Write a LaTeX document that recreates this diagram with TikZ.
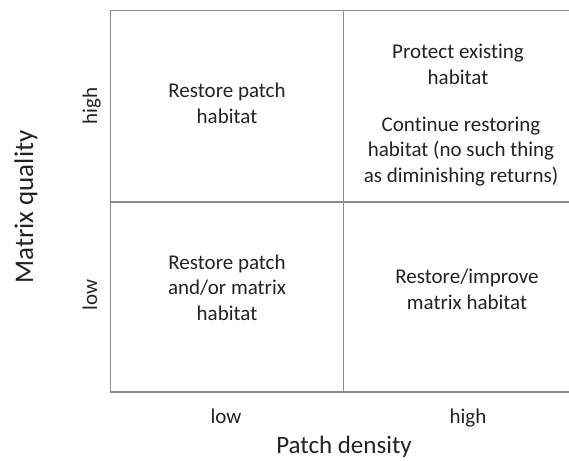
\documentclass[tikz,border=0pt]{standalone}
\usepackage{fontspec}
\setmainfont{Carlito}[Ligatures=NoCommon]
\definecolor{gridgray}{HTML}{8C8C8C}
\definecolor{ink}{HTML}{222222}
\begin{document}
\begin{tikzpicture}[x=1pt,y=-1pt,
  gridline/.style={draw=gridgray,line width=1.5pt},
  cell/.style={text=ink,font=\fontsize{21}{25.5}\selectfont,align=center,anchor=base,inner sep=0pt},
  tick/.style={text=ink,font=\fontsize{21}{25}\selectfont,anchor=base,inner sep=0pt},
  axistitle/.style={text=ink,anchor=base,inner sep=0pt}]
\useasboundingbox (0,0) rectangle (569,460);
% quadrant grid (right edge runs past the page)
\draw[gridline] (585,10.5) -- (110.5,10.5) -- (110.5,392) -- (585,392);
\draw[gridline] (343.5,10.5) -- (343.5,392);
\draw[gridline] (110.5,202) -- (585,202);
% cell texts, each placed at the baseline of its last line
\node[cell] (hl) at (227,123) {Restore patch\\habitat};
\node[cell] (hh1) at (458,84) {Protect existing\\habitat};
\node[cell] (hh2) at (461,182) {Continue restoring\\habitat (no such thing\\as diminishing returns)};
\node[cell] (ll) at (227,320) {Restore patch\\and/or matrix\\habitat};
\node[cell] (lh) at (467,309) {Restore/improve\\matrix habitat};
% horizontal axis
\node[tick] (xlow) at (226,423) {low};
\node[tick] (xhigh) at (468,423) {high};
\node[axistitle,font=\fontsize{25}{30}\selectfont] (xtitle) at (344,453) {Patch density};
% vertical axis
\node[tick,rotate=90] (yhigh) at (97,106) {high};
\node[tick,rotate=90] (ylow) at (97,295) {low};
\node[axistitle,rotate=90,font=\fontsize{27}{32}\selectfont] (ytitle) at (33,207) {Matrix quality};
\end{tikzpicture}
\end{document}
